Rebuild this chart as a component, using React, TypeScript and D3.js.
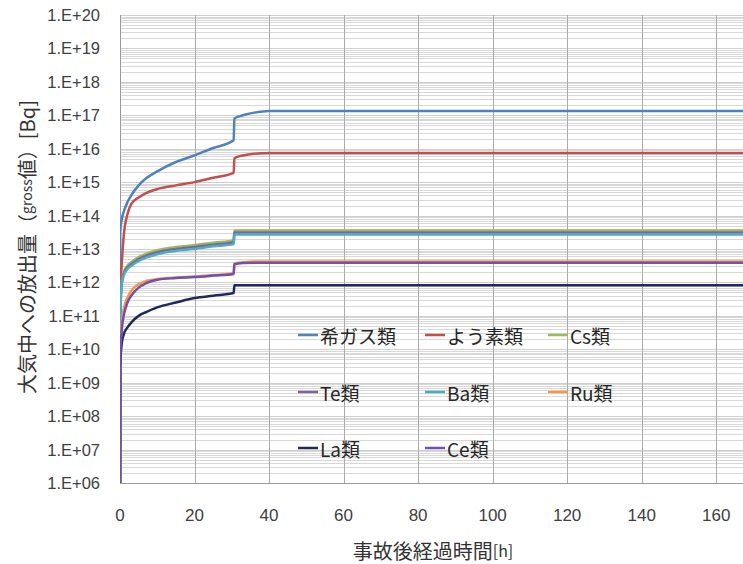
import React from "react";
import * as d3 from "d3";

// time points [h]
const TIMES = [0, 0.05, 0.5, 1, 2, 3, 5, 7, 10, 15, 20, 25, 30.5, 30.7, 33, 36, 40, 168];

// release [Bq] per nuclide group
const NOBLE = [1e6, 3.2e13, 8e13, 1.3e14, 2.5e14, 4e14, 8e14, 1.3e15, 2.1e15, 4e15, 6.3e15, 1.05e16, 1.8e16, 8e16, 1e17, 1.2e17, 1.35e17, 1.35e17];
const IODINE = [1e6, 3.2e11, 4e12, 2.5e13, 1.1e14, 2.2e14, 3.5e14, 4.7e14, 6.2e14, 8e14, 1e15, 1.35e15, 1.9e15, 5.2e15, 6.3e15, 7.1e15, 7.4e15, 7.4e15];
const CS = [1e6, 1.1e11, 1.1e12, 2e12, 3.2e12, 4e12, 5.7e12, 7.2e12, 9.2e12, 1.15e13, 1.3e13, 1.55e13, 1.8e13, 3.6e13, 3.6e13, 3.6e13, 3.6e13, 3.6e13];
const TE = [1e6, 1e11, 1e12, 1.8e12, 2.8e12, 3.5e12, 5e12, 6.3e12, 8e12, 1e13, 1.15e13, 1.35e13, 1.6e13, 3.1e13, 3.1e13, 3.1e13, 3.1e13, 3.1e13];
const BA = [1e6, 9e10, 9e11, 1.6e12, 2.5e12, 3.1e12, 4.4e12, 5.5e12, 7e12, 8.8e12, 1e13, 1.2e13, 1.4e13, 2.7e13, 2.7e13, 2.7e13, 2.7e13, 2.7e13];
const RU = [1e6, 1e10, 6.3e10, 1.6e11, 3.5e11, 5.6e11, 8.9e11, 1.1e12, 1.26e12, 1.4e12, 1.5e12, 1.66e12, 1.9e12, 3.7e12, 4e12, 4.2e12, 4.2e12, 4.2e12];
const LA = [1e6, 3.2e9, 1.6e10, 2.8e10, 4.5e10, 6.3e10, 1e11, 1.3e11, 1.8e11, 2.5e11, 3.4e11, 4e11, 4.8e11, 8.3e11, 8.3e11, 8.3e11, 8.3e11, 8.3e11];
const CE = [1e6, 5e9, 4e10, 1e11, 2.5e11, 4e11, 7e11, 9.5e11, 1.2e12, 1.35e12, 1.45e12, 1.6e12, 1.8e12, 3.5e12, 3.8e12, 3.9e12, 3.9e12, 3.9e12];

const SERIES_NAMES = ["希ガス類", "よう素類", "Cs類", "Te類", "Ba類", "Ru類", "La類", "Ce類"];
const SERIES_VALUES = [NOBLE, IODINE, CS, TE, BA, RU, LA, CE];
const SERIES_COLORS = ["#4F81BD", "#C0504D", "#9BBB59", "#8064A2", "#4BACC6", "#F79646", "#1F2A5A", "#7050B0"];

const X_TICKS = [0, 20, 40, 60, 80, 100, 120, 140, 160];
const Y_EXPONENTS = [6, 7, 8, 9, 10, 11, 12, 13, 14, 15, 16, 17, 18, 19, 20];

const W = 743;
const H = 564;
const PL = 120;
const PR = 746;
const PT = 15;
const PB = 483;

export default function App() {
  const x = d3.scaleLinear().domain([0, 168]).range([PL, PR]);
  const y = d3.scaleLog().domain([1e6, 1e20]).range([PB, PT]);

  const line = d3
    .line<[number, number]>()
    .x((d) => x(d[0]))
    .y((d) => y(d[1]))
    .curve(d3.curveMonotoneX);

  const minor: number[] = [];
  for (let k = 6; k < 20; k++) {
    for (let m = 2; m <= 9; m++) minor.push(m * Math.pow(10, k));
  }

  const legendCols = [298, 425, 548];
  const legendRows = [335, 392, 448];

  const font = "'Liberation Sans', Arial, sans-serif";
  const cjk = "'Noto Sans CJK JP', 'Noto Sans', sans-serif";

  return (
    <svg
      width={W}
      height={H}
      style={{ position: "absolute", left: 0, top: 0, background: "#fff" }}
    >
      <defs>
        <clipPath id="plotclip">
          <rect x={PL} y={PT - 2} width={PR - PL} height={PB - PT + 4} />
        </clipPath>
      </defs>
      {/* minor gridlines */}
      {minor.map((v, i) => {
        const yy = Math.round(y(v)) + 0.5;
        return <line key={"mn" + i} x1={PL} x2={PR} y1={yy} y2={yy} stroke="#d8d8d8" strokeWidth={1} />;
      })}
      {/* major gridlines */}
      {Y_EXPONENTS.map((e) => {
        const yy = Math.round(y(Math.pow(10, e))) + 0.5;
        return <line key={"mj" + e} x1={PL} x2={PR} y1={yy} y2={yy} stroke="#cfcfcf" strokeWidth={1} />;
      })}
      {/* vertical gridlines */}
      {X_TICKS.filter((t) => t > 0).map((t) => {
        const xx = Math.round(x(t)) + 0.5;
        return <line key={"vx" + t} x1={xx} x2={xx} y1={PT} y2={PB} stroke="#ababab" strokeWidth={1} />;
      })}
      {/* axes */}
      <line x1={PL + 0.5} x2={PL + 0.5} y1={PT} y2={PB} stroke="#9a9a9a" strokeWidth={1} />
      <line x1={PL} x2={PR} y1={PB + 0.5} y2={PB + 0.5} stroke="#9a9a9a" strokeWidth={1} />

      {/* series */}
      <g clipPath="url(#plotclip)">
        {SERIES_VALUES.map((vals, si) => {
          const pts = TIMES.map((t, i) => [t, vals[i]] as [number, number]);
          return (
            <path
              key={"s" + si}
              d={line(pts) || ""}
              fill="none"
              stroke={SERIES_COLORS[si]}
              strokeWidth={2.5}
              strokeLinejoin="round"
            />
          );
        })}
      </g>

      {/* y tick labels */}
      {Y_EXPONENTS.map((e) => (
        <text
          key={"yl" + e}
          x={100}
          y={y(Math.pow(10, e))}
          textAnchor="end"
          dominantBaseline="central"
          fontFamily={font}
          fontSize={16.5}
          fill="#404040"
        >
          {"1.E+" + (e < 10 ? "0" + e : String(e))}
        </text>
      ))}
      {/* x tick labels */}
      {X_TICKS.map((t) => (
        <text
          key={"xl" + t}
          x={x(t)}
          y={515}
          textAnchor="middle"
          dominantBaseline="central"
          fontFamily={font}
          fontSize={17}
          fill="#404040"
        >
          {t}
        </text>
      ))}

      {/* axis titles */}
      <text
        x={(PL + PR) / 2}
        y={550}
        textAnchor="middle"
        dominantBaseline="central"
        fontFamily={cjk}
        fontSize={20}
        fill="#333"
      >
        事故後経過時間<tspan fontSize={16}>[h]</tspan>
      </text>
      <text
        transform={`translate(26, 247) rotate(-90)`}
        textAnchor="middle"
        dominantBaseline="central"
        fontFamily={cjk}
        fontSize={20}
        fill="#333"
      >
        大気中への放出量（<tspan fontSize={14}>gross</tspan>値）[Bq]
      </text>

      {/* legend */}
      {SERIES_NAMES.map((name, i) => {
        const cx = legendCols[i % 3];
        const cy = legendRows[Math.floor(i / 3)];
        return (
          <g key={"lg" + i}>
            <line x1={cx} x2={cx + 20} y1={cy} y2={cy} stroke={SERIES_COLORS[i]} strokeWidth={2.5} />
            <text
              x={cx + 22}
              y={cy}
              dominantBaseline="central"
              fontFamily={cjk}
              fontSize={19}
              fill="#262626"
            >
              {name}
            </text>
          </g>
        );
      })}
    </svg>
  );
}
